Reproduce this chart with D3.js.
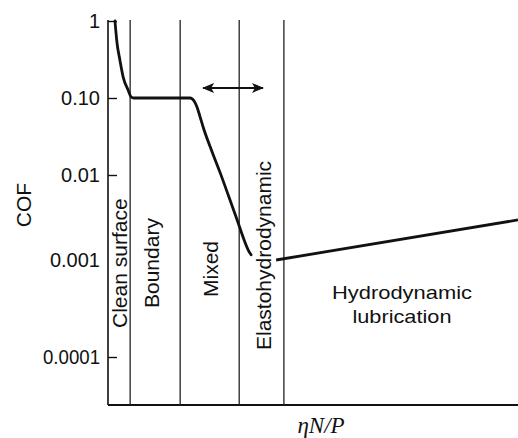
<!DOCTYPE html>
<html>
<head>
<meta charset="utf-8">
<script src="https://cdn.jsdelivr.net/npm/d3@7"></script>
<style>
  body { margin: 0; background: #fff; }
  svg { display: block; }
  text { fill: #111; font-family: "Liberation Sans", Arial, sans-serif; }
</style>
</head>
<body>
<script>
// regime dividing lines on the (unitless) ηN/P axis, 0..100
const regimeBounds = [5.4, 17.6, 32.0, 42.9];
const regimeLabels = ["Clean surface", "Boundary", "Mixed", "Elastohydrodynamic"];

// y axis ticks
const tickValues = [1, 0.1, 0.01, 0.001, 0.0001];
const tickLabels = ["1", "0.10", "0.01", "0.001", "0.0001"];

// Stribeck curve: clean surface -> boundary -> mixed -> EHL
const curveX = [1.7, 2.2, 2.9, 3.7, 4.9, 5.6, 6.3, 12.0, 20.0, 21.0, 21.7, 22.4, 23.2, 25.4, 27.3, 29.5, 31.5, 33.2, 34.2, 34.9];
const curveCOF = [1, 0.518, 0.312, 0.187, 0.127, 0.104, 0.1, 0.1, 0.1, 0.0914, 0.0764, 0.0583, 0.042, 0.0199, 0.0109, 0.00551, 0.00296, 0.00172, 0.00131, 0.00115];

// hydrodynamic branch
const hydroX = [41.0, 100];
const hydroCOF = [0.001, 0.00296];

// double arrow above the mixed / EHL lines
const arrowX = [23.2, 37.8];
const arrowCOF = 0.135;

const w = 518;
const h = 438;

const x = d3.scaleLinear()
            .domain([0, 100])
            .range([108, 518]);

// the printed decades are not evenly spaced, so use a piecewise log scale
const y = d3.scaleLog()
            .domain([1, 0.1, 0.01, 0.001, 0.0001, 0.000032])
            .range([21, 98, 175, 260, 357, 405]);

const svg = d3.select("body")
              .append("svg")
              .attr("width", w)
              .attr("height", h);

svg.append("defs")
   .append("marker")
   .attr("id", "head")
   .attr("viewBox", "0 0 12 10")
   .attr("refX", 11)
   .attr("refY", 5)
   .attr("markerWidth", 12)
   .attr("markerHeight", 10)
   .attr("markerUnits", "userSpaceOnUse")
   .attr("orient", "auto-start-reverse")
   .append("path")
   .attr("d", "M0,0 L12,5 L0,10 L3,5 Z")
   .attr("fill", "#111");

const yBottom = y.range()[y.range().length - 1];

// frame: left axis line + bottom line
svg.append("line")
   .attr("x1", x(0)).attr("x2", x(0))
   .attr("y1", y(1) - 1).attr("y2", yBottom)
   .attr("stroke", "#111").attr("stroke-width", 1.6);

svg.append("line")
   .attr("x1", x(0)).attr("x2", x(100))
   .attr("y1", yBottom).attr("y2", yBottom)
   .attr("stroke", "#111").attr("stroke-width", 2);

// regime lines
svg.selectAll(".regime")
   .data(regimeBounds)
   .enter()
   .append("line")
   .attr("class", "regime")
   .attr("x1", d => x(d)).attr("x2", d => x(d))
   .attr("y1", y(1) - 1).attr("y2", yBottom)
   .attr("stroke", "#222").attr("stroke-width", 1.3);

// y axis (ticks point into the plot)
const yAxis = d3.axisLeft(y)
                .tickValues(tickValues)
                .tickFormat((d, i) => tickLabels[i])
                .tickSizeInner(-9)
                .tickSizeOuter(0)
                .tickPadding(8);

const gy = svg.append("g")
              .attr("transform", `translate(${x(0)},0)`)
              .call(yAxis);
gy.select(".domain").remove();
gy.selectAll(".tick line").attr("stroke", "#111").attr("stroke-width", 1.4);
gy.selectAll(".tick").filter(d => d === 0.001).select("line").remove();
gy.selectAll(".tick text")
  .attr("fill", "#111")
  .style("font-family", "'Liberation Sans', Arial, sans-serif")
  .style("font-size", "20px");
// the smallest label is printed a little condensed
gy.selectAll(".tick").filter(d => d === 0.0001).select("text")
  .attr("textLength", 57)
  .attr("lengthAdjust", "spacingAndGlyphs");

// regime labels, rotated
const edges = [0].concat(regimeBounds);
const labelStart = [328, 308, 297, 350];
const labelShift = [8, 4, 8, 9];
svg.selectAll(".rlabel")
   .data(regimeLabels)
   .enter()
   .append("text")
   .attr("class", "rlabel")
   .attr("transform", (d, i) => {
     const cx = x((edges[i] + edges[i + 1]) / 2) + labelShift[i];
     return `translate(${cx},${labelStart[i]}) rotate(-90)`;
   })
   .attr("text-anchor", "start")
   .style("font-size", "21px")
   .text(d => d);

// hydrodynamic label (printed slightly wide)
svg.append("text")
   .attr("x", x(71.7))
   .attr("y", 299)
   .attr("text-anchor", "middle")
   .attr("textLength", 140)
   .attr("lengthAdjust", "spacingAndGlyphs")
   .style("font-size", "19px")
   .text("Hydrodynamic");
svg.append("text")
   .attr("x", x(71.7))
   .attr("y", 323)
   .attr("text-anchor", "middle")
   .attr("textLength", 99)
   .attr("lengthAdjust", "spacingAndGlyphs")
   .style("font-size", "19px")
   .text("lubrication");

// curves
const line = d3.line()
               .x(d => x(d[0]))
               .y(d => y(d[1]))
               .curve(d3.curveMonotoneX);

svg.append("path")
   .datum(curveX.map((v, i) => [v, curveCOF[i]]))
   .attr("d", line)
   .attr("fill", "none")
   .attr("stroke", "#111")
   .attr("stroke-width", 2.8)
   .attr("stroke-linecap", "round");

svg.append("path")
   .datum(hydroX.map((v, i) => [v, hydroCOF[i]]))
   .attr("d", d3.line().x(d => x(d[0])).y(d => y(d[1])))
   .attr("fill", "none")
   .attr("stroke", "#111")
   .attr("stroke-width", 2.8);

// double arrow
svg.append("line")
   .attr("x1", x(arrowX[0])).attr("x2", x(arrowX[1]))
   .attr("y1", y(arrowCOF)).attr("y2", y(arrowCOF))
   .attr("stroke", "#111")
   .attr("stroke-width", 2)
   .attr("marker-start", "url(#head)")
   .attr("marker-end", "url(#head)");

// axis titles
svg.append("text")
   .attr("transform", "translate(31,205) rotate(-90)")
   .attr("text-anchor", "middle")
   .style("font-size", "21px")
   .text("COF");

svg.append("text")
   .attr("x", 321)
   .attr("y", 433)
   .attr("text-anchor", "middle")
   .style("font-family", "'Liberation Serif', 'Times New Roman', serif")
   .style("font-style", "italic")
   .style("font-size", "23px")
   .text("ηN/P");
</script>
</body>
</html>
